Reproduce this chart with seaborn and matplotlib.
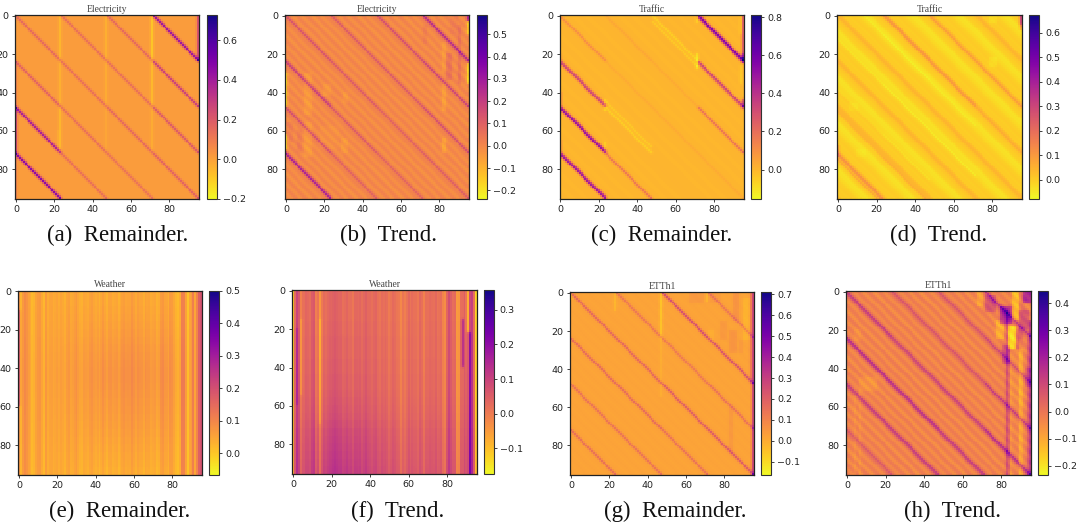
import numpy as np
import seaborn as sns
import matplotlib
matplotlib.use("Agg")
import matplotlib.pyplot as plt

N = 96
titles = ["Electricity", "Electricity", "Traffic", "Traffic", "Weather", "Weather", "ETTh1", "ETTh1"]
captions = ["(a)  Remainder.", "(b)  Trend.", "(c)  Remainder.", "(d)  Trend.",
            "(e)  Remainder.", "(f)  Trend.", "(g)  Remainder.", "(h)  Trend."]
vmins = [-0.2, -0.239, -0.155, -0.079, -0.067, -0.174, -0.163, -0.234]
vmaxs = [0.726, 0.587, 0.812, 0.672, 0.5, 0.357, 0.711, 0.445]
cbar_ticks = [
    [-0.2, 0.0, 0.2, 0.4, 0.6],
    [-0.2, -0.1, 0.0, 0.1, 0.2, 0.3, 0.4, 0.5],
    [0.0, 0.2, 0.4, 0.6, 0.8],
    [0.0, 0.1, 0.2, 0.3, 0.4, 0.5, 0.6],
    [0.0, 0.1, 0.2, 0.3, 0.4, 0.5],
    [-0.1, 0.0, 0.1, 0.2, 0.3],
    [-0.1, 0.0, 0.1, 0.2, 0.3, 0.4, 0.5, 0.6, 0.7],
    [-0.2, -0.1, 0.0, 0.1, 0.2, 0.3, 0.4],
]
bases = [0.012, 0.0, 0.0, 0.0, 0.025, 0.012, 0.02, -0.023]

# diagonal stripes: offset (col-row) and the added value per 24-column block
diags_a = [(72, 0, 0, 0, .42), (73, 0, 0, 0, .04), (48, 0, 0, .15, .28), (24, 0, .13, .13, .2),
           (0, .15, .13, .15, .17), (-24, .17, .13, .12, 0), (-48, .38, .13, 0, 0),
           (-47, .05, 0, 0, 0), (-72, .46, 0, 0, 0), (-71, .05, 0, 0, 0)]
diags_b = [(72, 0, 0, 0, .24), (71, 0, 0, 0, .05), (48, 0, 0, .15, .18), (24, 0, .12, .12, .15),
           (0, .14, .12, .1, .11), (-24, .18, .12, .09, 0), (-23, .05, 0, 0, 0),
           (-48, .16, .1, 0, 0), (-72, .27, 0, 0, 0), (-71, .06, 0, 0, 0)]
diags_c = [(72, 0, 0, 0, .45), (71, 0, 0, 0, .25), (73, 0, 0, 0, .12), (48, 0, 0, -.06, .3),
           (47, 0, 0, 0, .12), (45, 0, 0, -.05, 0), (24, 0, .04, .03, .19), (0, .11, .03, .03, .03),
           (-24, .28, -.06, .0, 0), (-23, .15, 0, 0, 0), (-21, 0, -.05, 0, 0),
           (-48, .45, .18, 0, 0), (-47, .22, 0, 0, 0), (-72, .43, 0, 0, 0), (-71, .22, 0, 0, 0)]
diags_d = [(-72, .06, 0, 0, 0), (-73, .05, 0, 0, 0), (-75, .06, 0, 0, 0), (-50, .04, .05, 0, 0),
           (24, 0, .05, .05, .02), (25, 0, .04, .03, 0), (48, 0, 0, .05, .05), (-38, -.02, -.03, 0, 0),
           (14, -.02, -.03, -.02, 0), (-12, -.02, -.03, -.03, 0)]
diags_e = []
diags_f = []
diags_g = [(72, 0, 0, 0, .12), (48, 0, 0, .24, .22), (24, 0, .12, .11, .13), (0, .16, .16, .19, .2),
           (-24, .15, .15, .13, 0), (-48, .13, .13, 0, 0), (-72, .14, 0, 0, 0)]
diags_h = [(72, 0, 0, 0, .14), (48, 0, 0, .07, .1), (24, 0, .07, .07, .13), (0, .11, .08, .09, .14),
           (-1, .05, .05, .05, .06), (-24, .13, .12, .1, 0), (-25, .08, .08, .06, 0),
           (-48, .1, .1, 0, 0), (-49, .06, .06, 0, 0), (-72, .06, 0, 0, 0)]

# stripes repeating with a 24 step in the offset
ripple_a = [0] * 24
ripple_b = [.0, .01, .0, -.02, -.03, .01, .02, .01, -.03, -.03, .01, .02,
            .01, -.02, -.04, -.01, .02, .01, -.02, -.03, .0, .02, .0, .0]
ripple_c = [.0, .0, .004, .0, .006, .0, .0, -.004, .0, .0, .004, .0,
            .0, .0, -.004, .0, .0, .006, .0, .0, .008, .0, .008, .0]
ripple_d = [.05, .04, .03, -.01, .0, .01, -.01, .0, .015, -.01, .0, -.01,
            -.03, -.015, -.04, -.03, -.04, -.03, -.01, .0, -.01, .015, .0, .03]
ripple_e = [0] * 24
ripple_f = [0] * 24
ripple_g = [.0, .0, .0, .006, .0, .0, -.005, .0, .0, .006, .0, .0,
            -.005, .0, .0, .006, .0, .0, -.005, .0, .0, .006, .0, .0]
ripple_h = [.03, .02, .01, -.02, -.03, .01, .02, .01, -.03, -.04, .0, .02,
            .02, -.02, -.05, -.02, .01, .02, .0, -.03, -.03, .01, .03, .03]

# column pieces: col, first row, last row, added value
cols_a = [(23, 0, 24, -.09), (23, 24, 48, -.07), (23, 48, 72, -.09), (47, 0, 24, -.07), (47, 24, 48, -.05),
          (47, 48, 72, -.03), (71, 0, 24, -.14), (71, 24, 48, -.1), (71, 48, 72, -.05), (95, 0, 24, .25),
          (0, 24, 48, .08), (0, 48, 72, .28), (0, 72, 96, .08), (22, 60, 72, -.03)]
cols_b = [(0, 30, 48, -.18), (0, 62, 70, -.18), (95, 3, 10, -.15), (95, 25, 36, -.18), (95, 0, 3, .3)]
cols_c = [(71, 0, 4, -.09), (71, 20, 28, -.13), (23, 44, 50, -.1), (23, 66, 72, -.08), (95, 0, 20, .28),
          (95, 20, 24, .5), (95, 44, 48, .3), (0, 40, 48, .3), (0, 65, 72, .25), (0, 20, 24, .1),
          (94, 0, 10, -.08), (94, 26, 36, -.06)]
cols_d = [(95, 0, 5, .33), (95, 5, 8, .12), (0, 68, 74, .1)]
cols_e = [(0, 10, 60, .12)]
cols_f = [(88, 15, 40, .14), (91, 0, 22, -.16), (92, 22, 96, .12), (2, 20, 60, .06), (4, 15, 55, -.05),
          (14, 15, 70, -.05)]
cols_g = [(23, 0, 10, -.06), (47, 0, 25, -.1), (47, 25, 55, -.03), (71, 0, 5, -.06), (95, 0, 96, .28),
          (94, 0, 48, .08), (0, 0, 4, -.08), (83, 60, 85, .03), (84, 60, 85, .03)]
cols_h = [(83, 10, 96, .14), (84, 30, 96, .08), (85, 30, 96, -.05), (90, 25, 96, -.08), (91, 25, 96, -.06),
          (95, 15, 96, .18), (94, 25, 96, .08), (7, 45, 96, -.03), (4, 50, 96, -.03)]

# small patches: col from, col to, row from, row to, added value
rects_a = []
rects_b = [(10, 14, 30, 52, -.035), (10, 14, 56, 74, -.035), (6, 9, 60, 72, .03), (1, 4, 56, 66, .03),
           (20, 24, 36, 42, -.03), (29, 33, 64, 72, -.035), (30, 33, 40, 46, -.03), (82, 84, 14, 30, -.04),
           (82, 84, 36, 50, -.05), (82, 84, 64, 72, -.06), (84, 87, 20, 34, .06), (90, 92, 5, 36, .06),
           (86, 90, 0, 10, .025), (72, 74, 5, 15, .03), (18, 28, 58, 70, -.015)]
rects_c = []
rects_d = [(6, 11, 46, 50, -.015), (10, 15, 70, 74, -.015), (79, 83, 0, 4, -.025), (79, 83, 22, 27, -.025)]
rects_e = []
rects_f = []
rects_g = [(62, 70, 0, 6, .025), (72, 79, 0, 6, .015), (78, 82, 15, 25, .025), (85, 88, 0, 15, .04),
           (83, 87, 20, 32, .035), (90, 94, 3, 25, -.035), (88, 90, 25, 32, .025), (72, 75, 20, 26, -.025)]
rects_h = [(72, 78, 2, 11, .1), (80, 86, 8, 17, .2), (78, 82, 15, 25, -.08), (84, 88, 18, 30, -.16),
           (86, 90, 0, 15, -.1), (90, 95, 10, 20, .1), (92, 96, 0, 6, .2), (81, 85, 28, 38, .1),
           (88, 92, 20, 30, .08), (68, 71, 0, 8, -.06), (90, 93, 0, 12, .02), (8, 16, 45, 52, -.03),
           (4, 8, 20, 26, -.025), (93, 96, 40, 50, .06), (84, 92, 32, 60, -.015)]

# whole-column levels for the Weather panels
col_e = [.06, -.02, .05, .07, .05, .03, .02, -.01, .0, .03, .04, .05,
         .02, -.02, .06, -.0, .03, .03, .01, .02, .03, .01, .03, .02,
         .0, .03, .04, .01, .02, .03, .05, .02, .01, .0, .03, .02,
         .01, .03, .04, .02, .01, .03, .0, .02, .04, .02, .0, .03,
         .03, .01, .02, .03, .0, .02, .03, .04, .02, .03, .02, .05,
         .03, .01, .04, .02, .03, .0, .04, .02, .03, .01, .02, .03,
         .0, .01, .04, .05, .02, .03, .0, .05, .04, .02, .0, -.01,
         .0, .1, .09, .03, -.04, .04, .02, .12, -.01, .08, .15, .17]
col_f = [-.16, .03, .1, .06, -.05, .02, .0, .03, .02, .0, .04, .07,
         -.05, .03, -.09, .0, .02, .0, .02, .03, .02, .03, .04, .03,
         .02, .03, .0, .01, .03, .0, .02, -.02, .03, .02, .01, .03,
         .0, .02, .04, .01, .02, .0, .02, .03, .0, -.01, .02, .0,
         .02, .01, -.02, .0, .02, .01, -.01, .0, -.05, .01, -.03, .0,
         .03, -.01, .02, .0, .01, -.02, .03, .01, -.04, .02, .0, .02,
         .01, .0, .03, -.01, .0, .02, -.03, -.06, .03, .08, .03, .0,
         .04, -.08, -.07, .03, .0, .05, .02, .0, .12, .1, .03, -.17]

# slow change down the panel (per 4 rows) and how much each 4 columns takes of it
row_e = [.0, .0, .003, .006, .01, .014, .018, .022, .025, .028, .03, .03,
         .028, .025, .022, .02, .017, .014, .01, .006, .002, -.002, -.006, -.01]
weight_e = [.2, .2, .2, .3, .3, .4, .5, .6, .7, .8, .9, 1,
            1, 1, 1, 1, 1, .9, .9, .8, .6, .4, .2, .1]
row_f = [.0, .0, .0, .0, .005, .005, .01, .01, .01, .015, .015, .02,
         .02, .025, .03, .035, .04, .05, .06, .065, .07, .075, .08, .085]
weight_f = [.5, .6, .7, .8, .9, 1, 1, 1, .9, .8, .7, .7,
            .6, .6, .5, .5, .5, .5, .5, .5, .5, .4, .4, .4]
no_row = None
no_col = None

stripe_gain = 1.7
soft = (0.15, 0.7, 0.15)


def soften(cells):
    # the reference is a blurry raster, so neighbouring cells bleed a little
    for axis in (0, 1):
        p = np.pad(cells, 1, mode="edge")
        if axis == 0:
            cells = soft[0] * p[:-2, 1:-1] + soft[1] * p[1:-1, 1:-1] + soft[2] * p[2:, 1:-1]
        else:
            cells = soft[0] * p[1:-1, :-2] + soft[1] * p[1:-1, 1:-1] + soft[2] * p[1:-1, 2:]
    return cells


def build_cells(base, diags, ripple, cols, rects, col_level=None, row_level=None, weight=None):
    cells = np.full((N, N), float(base))
    if row_level is not None:
        cells += np.outer(np.repeat(row_level, 4), np.repeat(weight, 4))
    if col_level is not None:
        cells += np.array(col_level)[None, :]
    for i in range(N):
        for j in range(N):
            cells[i, j] += ripple[(j - i) % 24]
    for c0, c1, r0, r1, v in rects:
        cells[r0:r1, c0:c1] += v
    for c, r0, r1, v in cols:
        cells[r0:r1, c] += v
    for d in diags:
        for j in range(N):
            i = j - d[0]
            if 0 <= i < N:
                cells[i, j] += stripe_gain * d[1 + j // 24]
    return soften(cells)


panels = [
    build_cells(bases[0], diags_a, ripple_a, cols_a, rects_a),
    build_cells(bases[1], diags_b, ripple_b, cols_b, rects_b),
    build_cells(bases[2], diags_c, ripple_c, cols_c, rects_c),
    build_cells(bases[3], diags_d, ripple_d, cols_d, rects_d),
    build_cells(bases[4], diags_e, ripple_e, cols_e, rects_e, col_e, row_e, weight_e),
    build_cells(bases[5], diags_f, ripple_f, cols_f, rects_f, col_f, row_f, weight_f),
    build_cells(bases[6], diags_g, ripple_g, cols_g, rects_g),
    build_cells(bases[7], diags_h, ripple_h, cols_h, rects_h),
]

W, H = 1078, 525
# left, top, right, bottom of heatmap, then left and right of colour bar (pixels)
boxes = [(15, 15, 199, 199, 206.5, 216.5), (285, 15, 469, 199, 477, 486.5),
         (559.5, 15, 744, 199, 751, 761), (837, 15, 1022, 199, 1029, 1039),
         (18, 290.5, 202, 475, 209, 219), (292, 290, 477, 474, 484, 493.5),
         (570, 292, 754, 475, 761, 771), (846, 291, 1031, 475, 1038, 1048)]
caption_x = [118, 388, 662, 939, 120, 398, 675, 952]
caption_y = [235, 235, 235, 235, 511, 511, 511, 511]
tick_vals = [0, 20, 40, 60, 80]

fig = plt.figure(figsize=(W / 100, H / 100), dpi=100)
for k in range(8):
    l, t, r, b, cl, cr = boxes[k]
    ax = fig.add_axes([l / W, 1 - b / H, (r - l) / W, (b - t) / H])
    cax = fig.add_axes([cl / W, 1 - b / H, (cr - cl) / W, (b - t) / H])
    sns.heatmap(panels[k], ax=ax, cbar_ax=cax, cmap="plasma_r", vmin=vmins[k], vmax=vmaxs[k],
                xticklabels=False, yticklabels=False, cbar_kws={"ticks": cbar_ticks[k]})
    ax.set_xticks([v + 0.5 for v in tick_vals], labels=tick_vals)
    ax.set_yticks([v + 0.5 for v in tick_vals], labels=tick_vals, rotation=0)
    ax.tick_params(labelsize=6.8, length=2.5, width=0.6, pad=2, colors="#222222")
    for s in ax.spines.values():
        s.set_visible(True)
        s.set_linewidth(0.9)
        s.set_color("#222222")
    cax.tick_params(labelsize=6.8, length=2.5, width=0.6, pad=2, colors="#222222")
    cbar = ax.collections[0].colorbar
    cbar.outline.set_linewidth(0.8)
    cbar.outline.set_edgecolor("#333333")
    ax.set_title(titles[k], family="Liberation Serif", fontsize=6.9, color="#444444", pad=2.5)
    fig.text(caption_x[k] / W, 1 - caption_y[k] / H, captions[k], family="Liberation Serif",
             fontsize=16.4, ha="center", va="center", color="#111111")

fig.savefig("out.png", dpi=100)
